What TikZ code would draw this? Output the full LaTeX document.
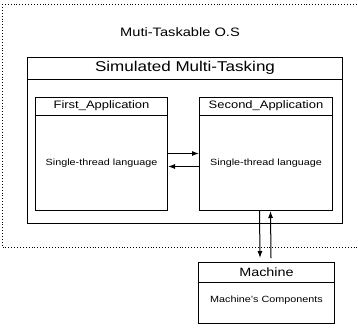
\documentclass[tikz,border=0pt]{standalone}
\usepackage{fontspec}
\setmainfont[FakeStretch=1.2]{Liberation Sans}
\usetikzlibrary{arrows.meta}
\begin{document}
\begin{tikzpicture}[x=1pt,y=-1pt,
  box/.style={draw,line width=1pt,inner sep=0pt,anchor=north west},
  arr/.style={line width=1pt,-{Latex[length=7pt,width=5pt]}},
  ostxt/.style={font=\fontsize{12.2}{14}\selectfont},
  bigtxt/.style={font=\fontsize{14.2}{16}\selectfont},
  midtxt/.style={font=\fontsize{10.8}{13}\selectfont},
  smalltxt/.style={font=\fontsize{9}{11}\selectfont}]
\useasboundingbox (0,0) rectangle (358,330);
\clip (0,0) rectangle (358,330);
\draw[dotted,line width=0.9pt] (2,4) rectangle (380,247);
\node[ostxt] (os) at (180,32) {Muti-Taskable O.S};
% simulated multitasking
\node[box,minimum width=315pt,minimum height=166pt] (sim) at (27,57) {};
\draw[line width=1pt] ([yshift=-22pt]sim.north west) -- ([yshift=-22pt]sim.north east);
\node[bigtxt] (simt) at ([yshift=-11pt]sim.north) {Simulated Multi-Tasking};
% first application
\node[box,minimum width=132pt,minimum height=113pt] (first) at (35,97) {};
\draw[line width=1pt] ([yshift=-18pt]first.north west) -- ([yshift=-18pt]first.north east);
\node[midtxt] (firstt) at ([yshift=-9pt]first.north) {First\_Application};
\node[smalltxt] (firstb) at ([yshift=-9pt]first.center) {Single-thread language};
% second application
\node[box,minimum width=133pt,minimum height=113pt] (second) at (199,97) {};
\draw[line width=1pt] ([yshift=-18pt]second.north west) -- ([yshift=-18pt]second.north east);
\node[midtxt] (secondt) at ([yshift=-9pt]second.north) {Second\_Application};
\node[smalltxt] (secondb) at ([yshift=-9pt]second.center) {Single-thread language};
% machine
\node[box,minimum width=136pt,minimum height=61pt] (mach) at (198,262) {};
\draw[line width=1pt] ([yshift=-20pt]mach.north west) -- ([yshift=-20pt]mach.north east);
\node[midtxt,font=\fontsize{12}{14}\selectfont] (macht) at ([yshift=-10pt]mach.north) {Machine};
\node[smalltxt] (machb) at ([yshift=-38pt]mach.north) {Machine's Components};
% arrows
\draw[arr] ([yshift=0.5pt]first.east) -- ([yshift=0.5pt]second.west);
\draw[arr] ([yshift=-12.5pt]second.west) -- ([yshift=-12.5pt]first.east);
\draw[arr] ([xshift=-6.5pt]second.south) -- ([xshift=-6.5pt,yshift=4pt]mach.north);
\draw[arr] ([xshift=4.5pt,yshift=4pt]mach.north) -- ([xshift=4.5pt]second.south);
\end{tikzpicture}
\end{document}
